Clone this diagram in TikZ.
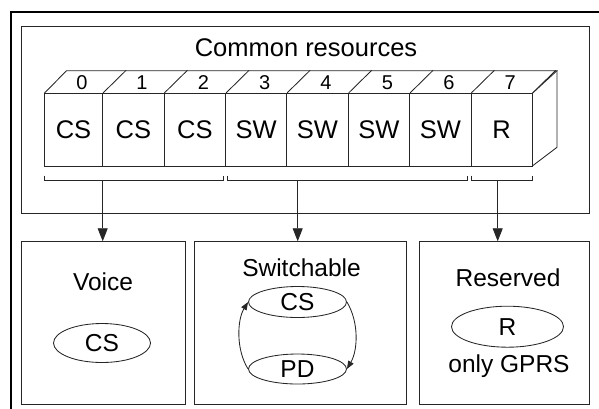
\documentclass[tikz,border=0pt]{standalone}
\usepackage{fontspec}
\setmainfont{Liberation Sans}
\usetikzlibrary{shapes.geometric,arrows.meta}
\begin{document}
\begin{tikzpicture}[x=1pt,y=-1pt,
  ln/.style={draw=black!85,line width=0.85pt},
  box/.style={ln,rectangle,inner sep=0pt},
  cell/.style={ln,rectangle,inner sep=0pt,minimum height=72.7pt,font=\fontsize{25.5}{28}\selectfont},
  num/.style={inner sep=0pt,font=\fontsize{20}{22}\selectfont},
  lbl/.style={inner sep=0pt,font=\fontsize{24.5}{28}\selectfont},
  oval/.style={ln,ellipse,inner sep=0pt,font=\fontsize{24.5}{28}\selectfont},
  bigarrow/.style={ln,-{Triangle[length=13pt,width=10pt]}},
  smallarrow/.style={ln,-{Triangle[length=8pt,width=6pt]}}]
\useasboundingbox (0,0) rectangle (599,408);
\clip (0,0) rectangle (599,408);
% outer frame
\draw[draw=black,line width=1.3pt] (11,12) rectangle (620,430);
% common resources box
\node[box,minimum width=568pt,minimum height=187pt] (common) at (305,119.5) {};
\node[inner sep=0pt,font=\fontsize{25.5}{30}\selectfont] (title) at (306,48) {Common resources};
% top and side faces
\draw[ln] (44.3,93.3) -- (66.5,70.7) -- (557,70.7) -- (532.3,93.3);
\draw[ln] (557,70.7) -- (557,147.3) -- (532.3,166);
% cells
\def\ys{129.65}
\foreach \i/\a/\b/\t in {0/44.3/102.7/CS,1/102.7/164/CS,2/164/225.7/CS,3/225.7/286.7/SW,4/286.7/348.3/SW,5/348.3/409.7/SW,6/409.7/471/SW,7/471/532.3/R}{
  \pgfmathsetmacro{\w}{\b-\a}
  \pgfmathsetmacro{\c}{(\a+\b)/2}
  \node[cell,minimum width=\w pt] (c\i) at (\c,\ys) {\t};
  \node[num] (n\i) at (\c+8.5,82.5) {\i};
  \draw[ln] (c\i.north east) -- ++(23,-22.6);
}
% brackets
\draw[ln] (44.3,175.5) -- (44.3,180) -- (223,180) -- (223,175.5);
\draw[ln] (227.7,175.5) -- (227.7,180) -- (467.7,180) -- (467.7,175.5);
\draw[ln] (471.7,175.5) -- (471.7,180) -- (532.3,180) -- (532.3,175.5);
\coordinate (b1) at (102.7,180);
\coordinate (b2) at (297.7,180);
\coordinate (b3) at (497.7,180);
% bottom boxes
\node[box,minimum width=164pt,minimum height=162.3pt] (voice) at (103,322.85) {};
\node[box,minimum width=212pt,minimum height=162.3pt] (switch) at (300.7,322.85) {};
\node[box,minimum width=170pt,minimum height=162.3pt] (reserved) at (504.3,322.85) {};
% arrows
\draw[bigarrow] (b1) -- (b1 |- voice.north);
\draw[bigarrow] (b2) -- (b2 |- switch.north);
\draw[bigarrow] (b3) -- (b3 |- reserved.north);
% voice
\node[lbl] (vt) at (103,281.5) {Voice};
\node[oval,minimum width=97pt,minimum height=39pt] (vcs) at (102,343) {CS};
% switchable
\node[lbl] (st) at (301.5,267.5) {Switchable};
\node[oval,minimum width=98pt,minimum height=31pt] (scs) at (297.5,302) {CS};
\node[oval,minimum width=98pt,minimum height=30pt] (spd) at (297.5,369) {PD};
\draw[smallarrow] (spd.west) .. controls (236,350) and (237,320) .. (scs.west);
\draw[smallarrow] (scs.east) .. controls (359,322) and (358,350) .. (spd.east);
% reserved
\node[lbl] (rt) at (508,278) {Reserved};
\node[oval,minimum width=112pt,minimum height=41pt] (rr) at (507.5,326.7) {R};
\node[lbl] (rg) at (509,366.5) {only GPRS};
\end{tikzpicture}
\end{document}
